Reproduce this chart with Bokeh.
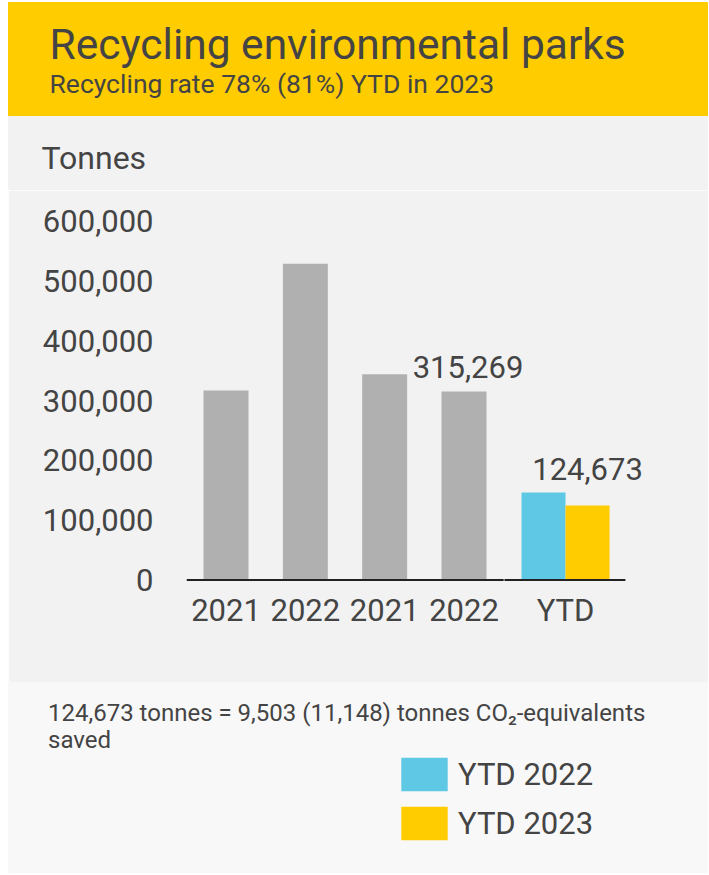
from bokeh.plotting import figure
from bokeh.models import (Range1d, FixedTicker, NumeralTickFormatter, Legend,
                          LegendItem, Label, LabelSet, ColumnDataSource)
from bokeh.embed import file_html
from bokeh.resources import INLINE
from bokeh.core.properties import value

# ---------------- data ----------------
title_text = "Recycling environmental parks"
subtitle_text = "Recycling rate 78% (81%) YTD in 2023"
y_title = "Tonnes"
categories = ["2021", "2022", "2021", "2022"]
annual_values = [317000, 529000, 344000, 315269]
ytd_category = "YTD"
ytd_series = ["YTD 2022", "YTD 2023"]
ytd_values = [146300, 124673]
y_ticks = [0, 100000, 200000, 300000, 400000, 500000, 600000]
footer_line1 = "124,673 tonnes = 9,503 (11,148) tonnes CO\u2082-equivalents"
footer_line2 = "saved"

# ---------------- style ----------------
W = 700
FONT = "Roboto"
TXT = "#444444"
GRAY = "#B0B0B0"
CYAN = "#5EC8E5"
YELLOW = "#FFCC00"
PANEL_BG = "#F2F2F2"
FOOT_BG = "#F8F8F8"
AXIS = "#222222"


def panel(h, bg, top=0):
    p = figure(width=W, height=h, x_range=Range1d(0, W), y_range=Range1d(h, 0),
               output_backend="svg", toolbar_location=None,
               x_axis_type=None, y_axis_type=None, min_border=0,
               margin=(top, 0, 0, 8))
    p.grid.visible = False
    p.outline_line_color = bg
    p.outline_line_width = 1
    p.background_fill_color = bg
    p.border_fill_color = bg
    return p


def add_text(p, x, y, txt, size):
    p.add_layout(Label(x=x, y=y, text=txt, text_font=FONT, text_font_size=size,
                       text_color=TXT, text_baseline="alphabetic"))


# header
header = panel(114, YELLOW, top=2)
add_text(header, 41, 42, title_text, "42.5px")
add_text(header, 41, 81, subtitle_text, "26.5px")

# strip with the unit
strip = panel(74, PANEL_BG)
add_text(strip, 33, 41, y_title, "32px")

# chart
FL, FR = 178, 637
PX_PER_UNIT = 79.33
PX_PER_100K = 59.8
n = len(categories)
xs = list(range(n))
ytd_pos = n + 0.28
bar_w = 0.567
half = 0.2775
x0 = -0.498
y0 = -1.5 * 1e5 / PX_PER_100K
frame_h = 492 - 10 - 101
chart = figure(width=W, height=492, output_backend="svg", toolbar_location=None,
               x_range=Range1d(x0, x0 + (FR - FL) / PX_PER_UNIT),
               y_range=Range1d(y0, y0 + frame_h * 1e5 / PX_PER_100K),
               min_border_left=FL, min_border_right=W - FR,
               min_border_top=10, min_border_bottom=101, margin=(0, 0, 0, 8))
chart.grid.visible = False
chart.outline_line_color = PANEL_BG
chart.outline_line_width = 1
chart.background_fill_color = PANEL_BG
chart.border_fill_color = PANEL_BG

chart.vbar(x=xs, top=annual_values, width=bar_w, fill_color=GRAY,
           line_color=None)
chart.vbar(x=[ytd_pos - half, ytd_pos + half], top=ytd_values, width=2 * half,
           fill_color=[CYAN, YELLOW], line_color=None)

# baseline (two segments, as in the original)
chart.segment(x0=[x0, n - 0.5 + 0.01], y0=[0, 0],
              x1=[n - 0.5, ytd_pos + 2 * half + 0.2], y1=[0, 0],
              line_color=AXIS, line_width=2)

lab_src = ColumnDataSource(dict(
    x=[xs[-1], ytd_pos + half],
    y=[annual_values[-1], max(ytd_values)],
    text=[f"{annual_values[-1]:,}", f"{ytd_values[-1]:,}"],
    xo=[4, 0],
))
chart.add_layout(LabelSet(x="x", y="y", text="text", source=lab_src,
                          x_offset="xo", y_offset=13, text_font=value(FONT),
                          text_font_size=value("31px"), text_color=TXT,
                          text_align="center", text_baseline="alphabetic"))

ya = chart.yaxis[0]
ya.ticker = FixedTicker(ticks=y_ticks)
ya.formatter = NumeralTickFormatter(format="0,0")
ya.axis_line_color = None
ya.major_tick_line_color = None
ya.major_tick_out = 0
ya.major_tick_in = 0
ya.minor_tick_line_color = None
ya.major_label_text_font = FONT
ya.major_label_text_font_size = "31px"
ya.major_label_text_color = TXT
ya.major_label_standoff = 33

xa = chart.xaxis[0]
tick_pos = xs + [ytd_pos]
xa.ticker = FixedTicker(ticks=tick_pos)
xa.major_label_overrides = {t: lab for t, lab in zip(tick_pos, categories + [ytd_category])}
xa.axis_line_color = None
xa.major_tick_line_color = None
xa.major_tick_out = 0
xa.major_tick_in = 0
xa.minor_tick_line_color = None
xa.major_label_text_font = FONT
xa.major_label_text_font_size = "31px"
xa.major_label_text_color = TXT
xa.major_label_standoff = 10

# footer
FH = 191
footer = panel(FH, FOOT_BG)
add_text(footer, 39.5, 30, footer_line1, "24px")
add_text(footer, 39.5, 57, footer_line2, "24px")
r1 = footer.vbar(x=[0], top=[0], width=0, fill_color=CYAN, line_color=None)
r2 = footer.vbar(x=[0], top=[0], width=0, fill_color=YELLOW, line_color=None)
legend = Legend(items=[LegendItem(label=ytd_series[0], renderers=[r1]),
                       LegendItem(label=ytd_series[1], renderers=[r2])],
                location=(387, 29), glyph_width=58, glyph_height=42,
                label_height=34, label_standoff=5, spacing=7, padding=0,
                margin=0, border_line_color=None, background_fill_alpha=0,
                label_text_font=FONT, label_text_font_size="31px",
                label_text_color=TXT)
footer.add_layout(legend)

open("out.html", "w").write(file_html([header, strip, chart, footer], INLINE))
